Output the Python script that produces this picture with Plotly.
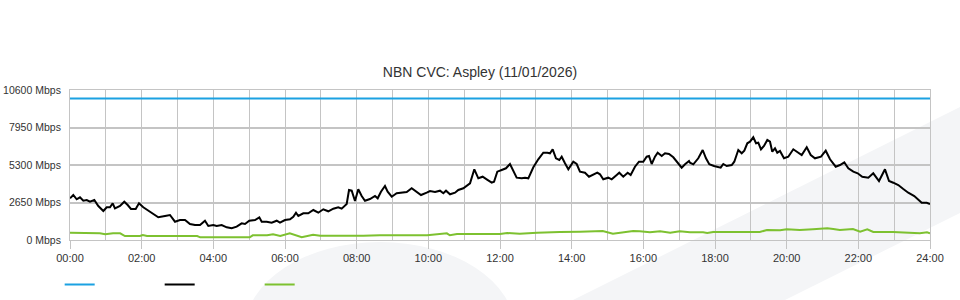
import plotly.graph_objects as go

# ---- data (minutes after midnight, Mbps) ----
download_minutes = [0, 5.5, 11.2, 16.7, 22.3, 28, 33.5, 40.7, 47.4, 55.8, 61.5, 67, 71.5, 75.3, 83.7, 90.9, 96.6,
                    102.1, 110, 115.5, 122.7, 130.1, 139.5, 147.8, 159.1, 167.4, 175.8, 184.2, 192.6, 200.9, 209.3,
                    217.7, 226, 231.6, 239.9, 245.6, 254, 262.4, 270.7, 279.1, 287.5, 293, 300.2, 309.8, 317, 321,
                    329.3, 337.7, 346.1, 351.6, 360, 368.4, 373.9, 378.4, 382.3, 390.6, 399, 407.4, 415.8, 424.1,
                    432.5, 440.9, 449.2, 454.9, 463.3, 467.2, 471.7, 477.2, 482.7, 488.4, 493.9, 502.3, 510.7,
                    515.2, 520.7, 527.4, 531.9, 538.7, 547, 555.4, 563.8, 572.1, 580.5, 587.7, 597.3, 602.8, 611.2,
                    619.5, 625.1, 629.6, 636.3, 644.7, 650.2, 658.6, 669.8, 677, 683.7, 691, 697.7, 706.1, 710,
                    715.5, 722.8, 730, 736.7, 742.3, 747.9, 756.3, 761.9, 767.4, 775.8, 784.1, 792.5, 799.2, 803.7,
                    808.2, 813.7, 819.3, 823.3, 828.8, 834.4, 842.7, 848.4, 853.9, 862.3, 869, 876.2, 882.9, 887.4,
                    892.9, 901.3, 907, 915.4, 919.7, 926.4, 933.8, 938.8, 946, 952.7, 959.9, 965.6, 969.5, 974,
                    979.5, 984, 990.8, 996.3, 1003, 1010.2, 1018.6, 1024.2, 1029.8, 1036.5, 1038.1, 1043.7, 1052,
                    1059.4, 1064.9, 1070.4, 1078.3, 1085.5, 1089.5, 1093.9, 1099.6, 1108, 1112.3, 1119, 1124.7,
                    1129.1, 1134.1, 1138.6, 1144.1, 1148.7, 1152.5, 1157, 1162, 1167.6, 1172.1, 1175.9, 1180.5,
                    1184.3, 1188.8, 1195.5, 1202.7, 1211.1, 1217.8, 1225.2, 1233.6, 1240.3, 1247.4, 1257.5, 1265.4,
                    1272.6, 1282.1, 1289.3, 1296.5, 1303.2, 1311.6, 1318.9, 1326.6, 1336.7, 1345, 1354.6, 1364.6,
                    1371.4, 1378.5, 1386.9, 1395.3, 1403.6, 1413.7, 1420.4, 1426.1, 1434.5, 1440]
download_mbps = [2947, 3180, 2876, 3017, 2777, 2827, 2707, 2827, 2403, 2049, 2311, 2311, 2594, 2240, 2403, 2707, 2473,
                 2191, 2191, 2594, 2311, 2120, 1837, 1604, 1696, 1767, 1293, 1413, 1413, 1131, 1060,
                 1060, 1364, 989, 1060, 989, 1060, 897, 827, 940, 1180, 1131, 1364, 1413, 1604, 1293,
                 1293, 1223, 1364, 1223, 1413, 1463, 1647, 1929, 1696, 1887, 1887, 2120, 1929, 2170,
                 2028, 2212, 2311, 2212, 2544, 3533, 3484, 2756, 3583, 3109, 2777, 2897, 3109,
                 2947, 3413, 3816, 3413, 3060, 3300, 3343, 3392, 3653, 3413, 3180, 3343, 3463, 3392,
                 3484, 3300, 3484, 3229, 3343, 3533, 3653, 4007, 4996, 4360, 4473, 4289, 4049, 4120,
                 4827, 4947, 5067, 5371, 4897, 4403, 4360, 4403, 4360, 5137, 5703, 6169, 6169, 6127,
                 6410, 5773, 5653, 5887, 5420, 4996, 5533, 5371, 4827, 4756, 4473, 4643, 4756, 4643,
                 4289, 4403, 4289, 4593, 4756, 4473, 4756, 4593, 5180, 5533, 5533, 5887, 5936, 5371,
                 5887, 6169, 5936, 6127, 6077, 5844, 5420, 5109, 5349, 5583, 5463, 5349, 5773,
                 6360, 5773, 5349, 5229, 5180, 5109, 5371, 5229, 5300, 5533, 6360, 6127,
                 6311, 6834, 6947, 7257, 6834, 6876, 6410, 6643, 7067, 6947, 6240, 6480,
                 6169, 6289, 5773, 5887, 6410, 6240, 6007, 6551, 6007, 5773, 5887, 6311,
                 5703, 5180, 5300, 5491, 5067, 4827, 4713, 4473, 4403, 4713, 4169, 4996,
                 4169, 4049, 3887, 3604, 3343, 3109, 2827, 2636, 2636, 2544]

upload_minutes = [0, 16.7, 33, 50, 59, 72, 84, 92, 117, 122, 129, 213, 218, 301, 306, 330, 340, 352, 368, 388, 407,
                  419, 491, 519, 586, 598, 631, 636, 648, 720, 732, 753, 782, 809, 820, 854, 892, 909, 921, 943,
                  954, 971, 988, 1005, 1021, 1038, 1060, 1067, 1077, 1144, 1155, 1167, 1189, 1200, 1222, 1244,
                  1268, 1278, 1289, 1311, 1323, 1335, 1345, 1378, 1401, 1423, 1435, 1440]
upload_mbps = [516, 516, 473, 473, 403, 473, 473, 283, 283, 353, 283, 283, 190, 190, 332, 332, 403, 283, 473, 190, 375,
               304, 304, 332, 332, 332, 473, 332, 424, 424, 495, 445, 516, 516, 565, 587, 636, 445, 516, 636,
               615, 544, 615, 516, 615, 544, 544, 495, 565, 565, 565, 707, 685, 756, 707, 756,
               827, 777, 707, 777, 587, 756, 565, 565, 544, 473, 544, 473]

capacity_minutes = [0, 1440]
capacity_mbps = [10000, 10000]

y_ticks = [0, 2650, 5300, 7950, 10600]
x_tick_hours = list(range(0, 25, 2))
x_tick_labels = [f"{h:02d}:00" for h in x_tick_hours]

title_text = "NBN CVC: Aspley (11/01/2026)"

# ---- figure ----
W, H = 960, 300
L, R, T, B = 70, 30, 90, 60
pw, ph = W - L - R, H - T - B


def px(xp, yp):
    """pixel -> paper coordinates (for the background watermark only)"""
    return (xp - L) / pw, (H - B - yp) / ph


def to_hours(mins):
    return [m / 60 for m in mins]


fig = go.Figure()
fig.add_trace(go.Scatter(x=to_hours(capacity_minutes), y=capacity_mbps, mode="lines", name="",
                         line=dict(color="#1ba1e2", width=2)))
fig.add_trace(go.Scatter(x=to_hours(download_minutes), y=download_mbps, mode="lines", name="",
                         line=dict(color="#000000", width=2)))
fig.add_trace(go.Scatter(x=to_hours(upload_minutes), y=upload_mbps, mode="lines", name="",
                         line=dict(color="#7dc130", width=2)))

# faint watermark in the background
wm = "#f4f5f7"
x0, y0 = px(380 - 135, 330 - 88)
x1, y1 = px(380 + 135, 330 + 88)
fig.add_shape(type="circle", xref="paper", yref="paper", x0=x0, y0=y1, x1=x1, y1=y0,
              fillcolor=wm, line_width=0, layer="below")
pts = [px(573, 300), px(960, 107), px(960, 213), px(785, 300)]
path = "M " + " L ".join(f"{a},{b}" for a, b in pts) + " Z"
fig.add_shape(type="path", xref="paper", yref="paper", path=path, fillcolor=wm, line_width=0, layer="below")

grid = "#c4c4c4"
fig.update_layout(
    width=W, height=H,
    margin=dict(l=L, r=R, t=T, b=B, autoexpand=False),
    paper_bgcolor="white",
    plot_bgcolor="rgba(0,0,0,0)",
    font=dict(family="Liberation Sans, Arial, sans-serif", size=11, color="#333333"),
    title=dict(text=title_text, x=0.5, xanchor="center", y=1 - 72 / H, yanchor="middle", yref="container",
               font=dict(size=14, color="#333333")),
    showlegend=True,
    legend=dict(orientation="h", x=-0.012, xanchor="left", y=-0.2, yanchor="top",
                entrywidth=55, entrywidthmode="pixels", font=dict(size=11),
                bgcolor="rgba(0,0,0,0)"),
    xaxis=dict(range=[0, 24], tickmode="linear", tick0=0, dtick=2,
               labelalias={str(h): lab for h, lab in zip(x_tick_hours, x_tick_labels)},
               showgrid=True, gridcolor=grid, gridwidth=1,
               ticks="outside", ticklen=8, tickcolor=grid,
               minor=dict(dtick=1, tick0=0, showgrid=True, gridcolor=grid, gridwidth=1, ticks=""),
               showline=True, linecolor=grid, mirror=True, zeroline=False, fixedrange=True),
    yaxis=dict(range=[0, 10600], tickmode="array", tickvals=y_ticks,
               ticktext=[f"{v} Mbps" for v in y_ticks], ticklabelstandoff=6,
               tickfont=dict(size=10.5),
               showgrid=True, gridcolor=grid, gridwidth=1.5, ticks="", ticklen=0,
               showline=True, linecolor=grid, mirror=True, zeroline=False, fixedrange=True),
)

fig.write_html("out.html")
